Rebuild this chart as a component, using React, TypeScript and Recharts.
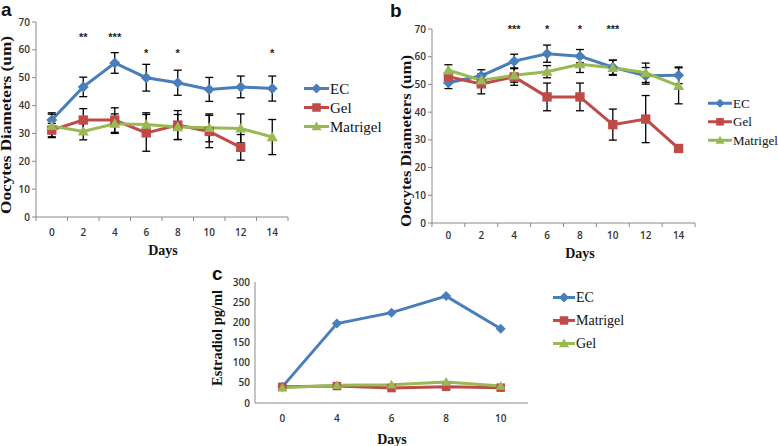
import React from "react"
import { LineChart, Line, XAxis, YAxis, ErrorBar, Legend } from "recharts"

const BLUE = "#4a7ebb"
const RED = "#be4b48"
const GREEN = "#98b954"
const AXIS = "#8a8a8a"
const TICK_FONT = "'Open Sans', 'Liberation Sans', sans-serif"
const SERIF = "'Liberation Serif', 'DejaVu Serif', serif"

// panel a - oocyte diameters
const daysA = ["0", "2", "4", "6", "8", "10", "12", "14"]
const ecA = [34.8, 46.7, 55.3, 50, 48.2, 45.8, 46.7, 46.1]
const ecErrA = [2.6, 3.5, 3.7, 4.8, 4.5, 4.3, 3.9, 4.5]
const gelA = [31.2, 34.8, 34.8, 30.2, 33, 30.7, 25, null]
const gelErrA = [2.4, 4.1, 4.4, 6.6, 5.2, 5.8, 4.6, null]
const matA = [32.7, 30.7, 33.5, 33.2, 32.3, 32, 31.8, 28.7]
const matErrA = [4.2, 3, 3.5, 4.2, 4.5, 5, 5.2, 6.3]
const sigA = ["", "**", "***", "*", "*", "", "", "*"]
const sigLevelA = [null, 63.2, 63.2, 57.4, 57.4, null, null, 57.4]

// panel b - oocyte diameters
const daysB = ["0", "2", "4", "6", "8", "10", "12", "14"]
const ecB = [50.6, 53.1, 58.4, 61.1, 60.2, 56.2, 53.1, 53.3]
const ecErrB = [2.1, 2.2, 2.5, 3.1, 2.4, 2.6, 3, 3]
const gelB = [52.8, 50.2, 52.7, 45.5, 45.5, 35.5, 37.5, 26.9]
const gelErrB = [1.5, 3.6, 3, 5, 5, 5.6, 8.5, null]
const matB = [55.1, 51.5, 53.3, 54.6, 57.3, 56, 54.2, 49.5]
const matErrB = [2, 2, 2.5, 2.2, 3, 2.7, 3.5, 6.5]
const sigB = ["", "", "***", "*", "*", "***", "", ""]
const sigLevelB = [null, null, 68.6, 68.6, 68.6, 68.6, null, null]

// panel c - estradiol
const daysC = ["0", "4", "6", "8", "10"]
const ecC = [40, 197, 224, 265, 184]
const matC = [40, 42, 37, 40, 38]
const gelC = [38, 44, 45, 52, 42]

const ticksA = [0, 10, 20, 30, 40, 50, 60, 70]
const ticksC = [0, 50, 100, 150, 200, 250, 300]

type Shape = "diamond" | "square" | "triangle"
interface SeriesDef {
  name: string
  key: string
  err?: string
  color: string
  shape: Shape
}

const seriesAB: SeriesDef[] = [
  { name: "EC", key: "ec", err: "ecErr", color: BLUE, shape: "diamond" },
  { name: "Gel", key: "gel", err: "gelErr", color: RED, shape: "square" },
  { name: "Matrigel", key: "mat", err: "matErr", color: GREEN, shape: "triangle" },
]
const seriesC: SeriesDef[] = [
  { name: "EC", key: "ec", color: BLUE, shape: "diamond" },
  { name: "Matrigel", key: "mat", color: RED, shape: "square" },
  { name: "Gel", key: "gel", color: GREEN, shape: "triangle" },
]

const dataA = daysA.map((d, i) => ({
  day: d, ec: ecA[i], ecErr: ecErrA[i], gel: gelA[i], gelErr: gelErrA[i],
  mat: matA[i], matErr: matErrA[i], sig: sigLevelA[i],
}))
const dataB = daysB.map((d, i) => ({
  day: d, ec: ecB[i], ecErr: ecErrB[i], gel: gelB[i], gelErr: gelErrB[i],
  mat: matB[i], matErr: matErrB[i], sig: sigLevelB[i],
}))
const dataC = daysC.map((d, i) => ({ day: d, ec: ecC[i], mat: matC[i], gel: gelC[i] }))

function Marker({ shape, cx, cy, color, r }: { shape: Shape; cx: number; cy: number; color: string; r: number }) {
  if (cx == null || cy == null || isNaN(cx) || isNaN(cy)) return null
  if (shape === "diamond") {
    return <polygon points={`${cx},${cy - r} ${cx + r},${cy} ${cx},${cy + r} ${cx - r},${cy}`} fill={color} />
  }
  if (shape === "square") {
    const s = r * 0.85
    return <rect x={cx - s} y={cy - s} width={2 * s} height={2 * s} fill={color} />
  }
  return <polygon points={`${cx},${cy - r} ${cx + r},${cy + r * 0.75} ${cx - r},${cy + r * 0.75}`} fill={color} />
}

function DayTick(props: any) {
  const { x, y, payload, index, visibleTicksCount, band, dy, marks } = props
  const half = band / 2
  return (
    <g>
      {marks && <line x1={x - half} x2={x - half} y1={y} y2={y + 4} stroke={AXIS} />}
      {marks && index === visibleTicksCount - 1 && (
        <line x1={x + half} x2={x + half} y1={y} y2={y + 4} stroke={AXIS} />
      )}
      <text x={x} y={y + dy} textAnchor="middle" dominantBaseline="central"
        fontSize={10} fontWeight={600} fontFamily={TICK_FONT} fill="#333">
        {payload.value}
      </text>
    </g>
  )
}

function AxisTitle({ px, py, text, rotate, len, size = 14 }: any) {
  return (
    <text x={px} y={py} textAnchor="middle" dominantBaseline="central"
      transform={rotate ? `rotate(-90 ${px} ${py})` : undefined}
      textLength={len} lengthAdjust={len ? "spacingAndGlyphs" : undefined}
      fontFamily={SERIF} fontWeight={700} fontSize={size} fill="#111">
      {text}
    </text>
  )
}

function LegendBox({ items, gap, size, lineLen, r }: { items: SeriesDef[]; gap: number; size: number; lineLen: number; r: number }) {
  return (
    <svg width={110} height={gap * items.length} style={{ display: "block" }}>
      {items.map((s, i) => {
        const y = gap * i + gap / 2
        return (
          <g key={s.name}>
            <line x1={0} x2={lineLen} y1={y} y2={y} stroke={s.color} strokeWidth={3} />
            <Marker shape={s.shape} cx={lineLen / 2} cy={y} color={s.color} r={r} />
            <text x={lineLen + 1} y={y} dominantBaseline="central" fontFamily={SERIF} fontSize={size} fill="#111">
              {s.name}
            </text>
          </g>
        )
      })}
    </svg>
  )
}

const sigLabel = (texts: string[]) => (p: any) => {
  const vb = p.viewBox || {}
  const x = vb.x ?? p.x
  const y = vb.y ?? p.y
  const t = texts[p.index]
  if (!t || x == null || y == null || isNaN(y)) return null
  return (
    <text x={x} y={y} textAnchor="middle" fontSize={11} fontWeight={700}
      fontFamily="'Liberation Sans', Arial, sans-serif" fill="#222">
      {t}
    </text>
  )
}

function seriesLines(series: SeriesDef[], r: number) {
  return series.map((s) => (
    <Line key={s.key} dataKey={s.key} stroke={s.color} strokeWidth={3}
      isAnimationActive={false} activeDot={false} legendType="none"
      dot={(p: any) => <Marker key={`${s.key}-${p.index}`} shape={s.shape} cx={p.cx} cy={p.cy} color={s.color} r={r} />}>
      {s.err && <ErrorBar dataKey={s.err} width={4} strokeWidth={1.3} stroke="#000" direction="y" />}
    </Line>
  ))
}

export default function App() {
  return (
    <div style={{ position: "absolute", left: 0, top: 0, width: 778, height: 446, overflow: "hidden", background: "#fff" }}>
      {/* a */}
      <div style={{ position: "absolute", left: 0, top: 0 }}>
        <LineChart width={390} height={260} data={dataA} margin={{ top: 22, right: 102, left: 0, bottom: 0 }}>
          <XAxis dataKey="day" interval={0} height={43} tickSize={0} tickMargin={0} tickLine={false}
            padding={{ left: 15.75, right: 15.75 }} axisLine={{ stroke: AXIS }}
            tick={<DayTick band={31.5} dy={15} marks />}
            label={<AxisTitle px={163} py={250} text="Days" />} />
          <YAxis type="number" domain={[0, 70]} ticks={ticksA} interval={0} width={36}
            tickSize={4} tickMargin={2} axisLine={{ stroke: AXIS }} tickLine={{ stroke: AXIS }}
            tick={{ fontSize: 10, fontWeight: 600, fontFamily: TICK_FONT, fill: "#333" }}
            label={<AxisTitle px={6} py={125} text="Oocytes Diameters (um)" rotate len={178} />} />
          {seriesLines(seriesAB, 5.5)}
          <Line dataKey="sig" stroke="none" dot={false} activeDot={false} legendType="none"
            isAnimationActive={false} label={sigLabel(sigA)} />
          <Legend layout="vertical" align="center" verticalAlign="middle"
            wrapperStyle={{ left: 304, top: 78.5, width: 110 }}
            content={() => <LegendBox items={seriesAB} gap={19} size={15} lineLen={25} r={5} />} />
        </LineChart>
      </div>

      {/* b */}
      <div style={{ position: "absolute", left: 396, top: 0 }}>
        <LineChart width={382} height={265} data={dataB} margin={{ top: 29, right: 83, left: 0, bottom: 0 }}>
          <XAxis dataKey="day" interval={0} height={42} tickSize={0} tickMargin={0} tickLine={false}
            padding={{ left: 16.4, right: 16.4 }} axisLine={{ stroke: AXIS }}
            tick={<DayTick band={32.875} dy={12} marks />}
            label={<AxisTitle px={184} py={253} text="Days" />} />
          <YAxis type="number" domain={[0, 70]} ticks={ticksA} interval={0} width={36}
            tickSize={4} tickMargin={2} axisLine={{ stroke: AXIS }} tickLine={{ stroke: AXIS }}
            tick={{ fontSize: 10, fontWeight: 600, fontFamily: TICK_FONT, fill: "#333" }}
            label={<AxisTitle px={10} py={141} text="Oocytes Diameters (um)" rotate len={172} />} />
          {seriesLines(seriesAB, 5.5)}
          <Line dataKey="sig" stroke="none" dot={false} activeDot={false} legendType="none"
            isAnimationActive={false} label={sigLabel(sigB)} />
          <Legend layout="vertical" align="center" verticalAlign="middle"
            wrapperStyle={{ left: 312, top: 94, width: 110 }}
            content={() => <LegendBox items={seriesAB} gap={18.5} size={13} lineLen={24} r={4.5} />} />
        </LineChart>
      </div>

      {/* c */}
      <div style={{ position: "absolute", left: 205, top: 262 }}>
        <LineChart width={573} height={184} data={dataC} margin={{ top: 20, right: 250, left: 0, bottom: 0 }}>
          <XAxis dataKey="day" interval={0} height={43} tickSize={0} tickMargin={0} tickLine={false}
            padding={{ left: 27.3, right: 27.3 }} axisLine={{ stroke: AXIS }}
            tick={<DayTick band={54.6} dy={15} marks={false} />}
            label={<AxisTitle px={187} py={177} text="Days" />} />
          <YAxis type="number" domain={[0, 300]} ticks={ticksC} interval={0} width={50}
            tickSize={0} tickMargin={5} axisLine={{ stroke: AXIS }} tickLine={false}
            tick={{ fontSize: 10, fontWeight: 600, fontFamily: TICK_FONT, fill: "#333" }}
            label={<AxisTitle px={12} py={76} text="Estradiol pg/ml" rotate len={96} />} />
          {seriesLines(seriesC, 5)}
          <Legend layout="vertical" align="center" verticalAlign="middle"
            wrapperStyle={{ left: 348, top: 23.5, width: 110 }}
            content={() => <LegendBox items={seriesC} gap={23} size={14} lineLen={22} r={5} />} />
        </LineChart>
      </div>

      <svg width={778} height={446} style={{ position: "absolute", left: 0, top: 0, pointerEvents: "none" }}>
        <g fontFamily="'Liberation Sans', Arial, sans-serif" fontWeight={700} fontSize={19} fill="#111">
          <text x={1} y={16}>a</text>
          <text x={390} y={17}>b</text>
          <text x={212} y={280}>c</text>
        </g>
      </svg>
    </div>
  )
}
